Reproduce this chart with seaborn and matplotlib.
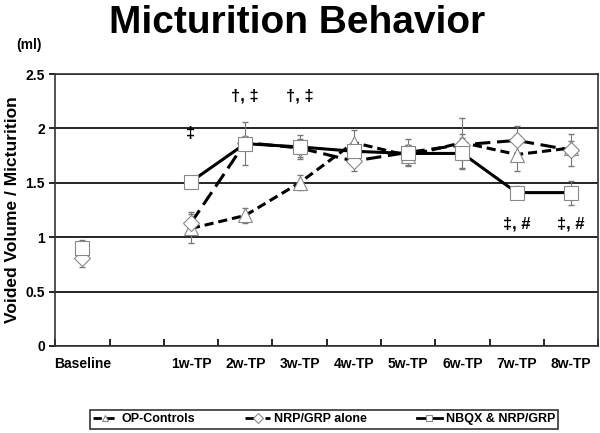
import numpy as np
import pandas as pd
import seaborn as sns
import matplotlib.pyplot as plt

# slot 1 is an empty gap between Baseline and 1w-TP
time_labels = ["Baseline", "", "1w-TP", "2w-TP", "3w-TP", "4w-TP",
               "5w-TP", "6w-TP", "7w-TP", "8w-TP"]

op_mean = [0.86, np.nan, 1.08, 1.20, 1.50, 1.87, 1.75, 1.87, 1.76, 1.82]
op_err = [0.06, np.nan, 0.13, 0.07, 0.07, 0.12, 0.10, 0.23, 0.15, 0.06]
nrp_mean = [0.81, np.nan, 1.13, 1.87, 1.82, 1.70, 1.78, 1.85, 1.89, 1.80]
nrp_err = [0.08, np.nan, 0.10, 0.06, 0.08, 0.09, 0.12, 0.10, 0.13, 0.15]
nbqx_mean = [0.90, np.nan, 1.51, 1.86, 1.83, 1.79, 1.77, 1.77, 1.41, 1.41]
nbqx_err = [0.07, np.nan, 0.05, 0.20, 0.11, 0.07, 0.08, 0.14, 0.06, 0.11]

series = ["OP-Controls", "NRP/GRP alone", "NBQX & NRP/GRP"]

x = np.arange(len(time_labels))
df = pd.DataFrame({
    "x": np.tile(x, 3),
    "value": op_mean + nrp_mean + nbqx_mean,
    "err": op_err + nrp_err + nbqx_err,
    "group": np.repeat(series, len(x)),
})
df = df.dropna()

plt.rcParams["font.family"] = ["Liberation Sans", "DejaVu Sans"]
plt.rcParams["font.weight"] = "bold"

fig = plt.figure(figsize=(6, 4.33), dpi=100)
ax = fig.add_axes([0.092, 0.201, 0.905, 0.628])

styles = {
    "OP-Controls": dict(marker="^", dashes=(3, 1.6), ms=10),
    "NRP/GRP alone": dict(marker="D", dashes=(5, 2.2), ms=8),
    "NBQX & NRP/GRP": dict(marker="s", dashes=None, ms=10),
}

for name in series:
    d = df[df["group"] == name]
    st = styles[name]
    ax.errorbar(d["x"], d["value"], yerr=d["err"], fmt="none",
                ecolor="#777777", elinewidth=0.8, capsize=2.5, zorder=2)
    # baseline and post-transplant points are drawn as separate pieces
    for part, lab in [(d[d["x"] == 0], None), (d[d["x"] > 0], name)]:
        sns.lineplot(data=part, x="x", y="value", ax=ax, color="black",
                     lw=2.2, marker=st["marker"], markersize=st["ms"],
                     markerfacecolor="white", markeredgecolor="#888888",
                     markeredgewidth=0.8, label=lab, zorder=3,
                     estimator=None, sort=False)
        if st["dashes"] is not None:
            ax.get_lines()[-1].set_dashes(st["dashes"])

ax.set_xlim(-0.5, 9.5)
ax.set_ylim(0, 2.5)
ax.set_yticks([0, 0.5, 1, 1.5, 2, 2.5])
ax.set_yticklabels(["0", "0.5", "1", "1.5", "2", "2.5"], fontsize=10, fontweight="bold")
ax.set_xticks(np.arange(-0.5, 10, 1), minor=False)
ax.set_xticklabels([])
ax.set_xticks(x, minor=True)
ax.set_xticklabels(time_labels, minor=True, fontsize=10, fontweight="bold")
ax.tick_params(axis="x", which="minor", length=0, pad=8)
ax.tick_params(axis="x", which="major", length=5, direction="in", width=1.2)
ax.tick_params(axis="y", length=4, direction="out", width=1.2)
ax.yaxis.grid(True, color="black", lw=1.2)
ax.set_axisbelow(True)
for s in ax.spines.values():
    s.set_linewidth(1.2)
    s.set_color("#333333")
ax.set_xlabel("")
ax.set_ylabel("Voided Volume / Micturition", fontsize=12.5, fontweight="bold",
              labelpad=4)

# significance marks
ax.text(2, 1.95, "‡", ha="center", va="center", fontsize=12, fontweight="bold")
ax.text(3, 2.30, "†, ‡", ha="center", va="center", fontsize=12, fontweight="bold")
ax.text(4, 2.30, "†, ‡", ha="center", va="center", fontsize=12, fontweight="bold")
ax.text(8, 1.12, "‡, #", ha="center", va="center", fontsize=12, fontweight="bold")
ax.text(9, 1.12, "‡, #", ha="center", va="center", fontsize=12, fontweight="bold")

fig.text(0.495, 0.946, "Micturition Behavior", ha="center", va="center",
         fontsize=28, fontweight="bold")
fig.text(0.048, 0.895, "(ml)", ha="center", va="center", fontsize=10, fontweight="bold")

leg = ax.legend(loc="center", bbox_to_anchor=(0.495, -0.27), ncol=3,
                frameon=True, fancybox=False, edgecolor="black",
                handlelength=2.0, columnspacing=4.0, handletextpad=0.3,
                borderpad=0.25, prop={"weight": "bold", "size": 9})
leg.get_frame().set_linewidth(1.2)
for h in leg.get_lines():
    h.set_markersize(5)
    h.set_linewidth(2)

fig.savefig("out.png", dpi=100)
